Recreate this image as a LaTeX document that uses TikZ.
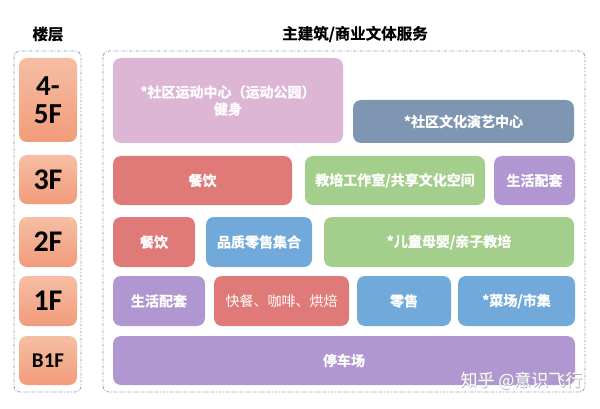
\documentclass[tikz,border=0pt]{standalone}
\usepackage{fontspec}
\setmainfont{Noto Sans CJK SC}[BoldFont={* Bold}]
\newfontfamily\svcfont{Noto Sans CJK SC Bold}[FakeBold=1.2]
\newfontfamily\titlefont{Noto Sans CJK SC Bold}[FakeBold=0.6]
\newfontfamily\floorfont{Carlito}
\usetikzlibrary{shadings}
\definecolor{cOrangeT}{HTML}{F6BEA4}
\definecolor{cOrangeB}{HTML}{F19C7A}
\definecolor{cPink}{HTML}{DDB6D6}
\definecolor{cSlate}{HTML}{7F96B2}
\definecolor{cRed}{HTML}{E07A78}
\definecolor{cGreen}{HTML}{A4CE8B}
\definecolor{cPurple}{HTML}{B097D2}
\definecolor{cBlue}{HTML}{70A9DA}
\definecolor{cFrame}{HTML}{8C9DB2}
\tikzset{
  frame/.style={draw=cFrame, line width=0.8pt, dash pattern=on 3pt off 1.5pt on 1pt off 1.5pt, rounded corners=6pt},
  floorbox/.style={rounded corners=8pt, top color=cOrangeT, bottom color=cOrangeB, draw=none, inner sep=0pt, minimum width=58pt, font=\floorfont\bfseries\fontsize{30}{26}\selectfont, align=center, text=black},
  floortxt/.style={inner sep=0pt, text height=19pt, text depth=0pt, font=\floorfont\bfseries\fontsize{29}{26}\selectfont, text=black},
  svc/.style={rounded corners=8pt, draw=none, inner sep=0pt, text=white, font=\svcfont\fontsize{14}{17}\selectfont, align=center},
  title/.style={font=\titlefont\fontsize{15.5}{18}\selectfont, text=black}
}
\begin{document}
\begin{tikzpicture}[x=1pt,y=-1pt]
\useasboundingbox (0,0) rectangle (600,409);
\fill[white] (0,0) rectangle (600,409);
% titles
\node[title] (t1) at (48,34) {楼层};
\node[title] (t2) at (355,34) {主建筑/商业文体服务};
% frames
\draw[frame] (14,51) rectangle (81,392);
\draw[frame] (103,51) rectangle (585,392);
% floor labels
\node[floorbox, minimum height=84pt] (f45) at (48,100) {};
\node[floortxt] (f45a) at (48,86.5) {4-};
\node[floortxt] (f45b) at (48,114) {5F};
\node[floorbox, minimum height=49pt] (f3) at (48,179.5) {3F};
\node[floorbox, minimum height=50pt] (f2) at (48,242) {2F};
\node[floorbox, minimum height=50pt] (f1) at (48,301) {1F};
\node[floorbox, minimum height=49pt, font=\floorfont\bfseries\fontsize{21}{22}\selectfont] (fb1) at (48,360.5) {B1F};
% 4-5F
\node[svc, fill=cPink, minimum width=230pt, minimum height=85pt] (sport) at (228,100.5) {*社区运动中心（运动公园）\\健身};
\node[svc, fill=cSlate, minimum width=221pt, minimum height=43pt] (culture) at (463.5,121.5) {*社区文化演艺中心};
% 3F
\node[svc, fill=cRed, minimum width=179pt, minimum height=49pt] (r3a) at (202.5,180.5) {餐饮};
\node[svc, fill=cGreen, minimum width=180pt, minimum height=49pt] (r3b) at (395,180.5) {教培工作室/共享文化空间};
\node[svc, fill=cPurple, minimum width=81pt, minimum height=49pt] (r3c) at (534.5,180.5) {生活配套};
% 2F
\node[svc, fill=cRed, minimum width=82pt, minimum height=50pt] (r2a) at (154,242) {餐饮};
\node[svc, fill=cBlue, minimum width=106pt, minimum height=50pt] (r2b) at (259,242) {品质零售集合};
\node[svc, fill=cGreen, minimum width=250pt, minimum height=50pt] (r2c) at (449,242) {*儿童母婴/亲子教培};
% 1F
\node[svc, fill=cPurple, minimum width=92pt, minimum height=50pt] (r1a) at (159,301) {生活配套};
\node[svc, fill=cRed, minimum width=135pt, minimum height=50pt, font=\fontsize{14}{17}\selectfont] (r1b) at (281.5,301) {快餐、咖啡、烘焙};
\node[svc, fill=cBlue, minimum width=94pt, minimum height=50pt] (r1c) at (404,301) {零售};
\node[svc, fill=cBlue, minimum width=117pt, minimum height=50pt] (r1d) at (516.5,301) {*菜场/市集};
% B1F
\node[svc, fill=cPurple, minimum width=462pt, minimum height=49pt] (b1) at (344,360.5) {停车场};
% watermark
\node[text=gray!60, font=\fontsize{17}{19}\selectfont, anchor=east] (wm0) at (586.6,381.6) {知乎 @意识飞行};
\node[text=white, font=\fontsize{17}{19}\selectfont, anchor=east] (wm) at (586,381) {知乎 @意识飞行};
\end{tikzpicture}
\end{document}
